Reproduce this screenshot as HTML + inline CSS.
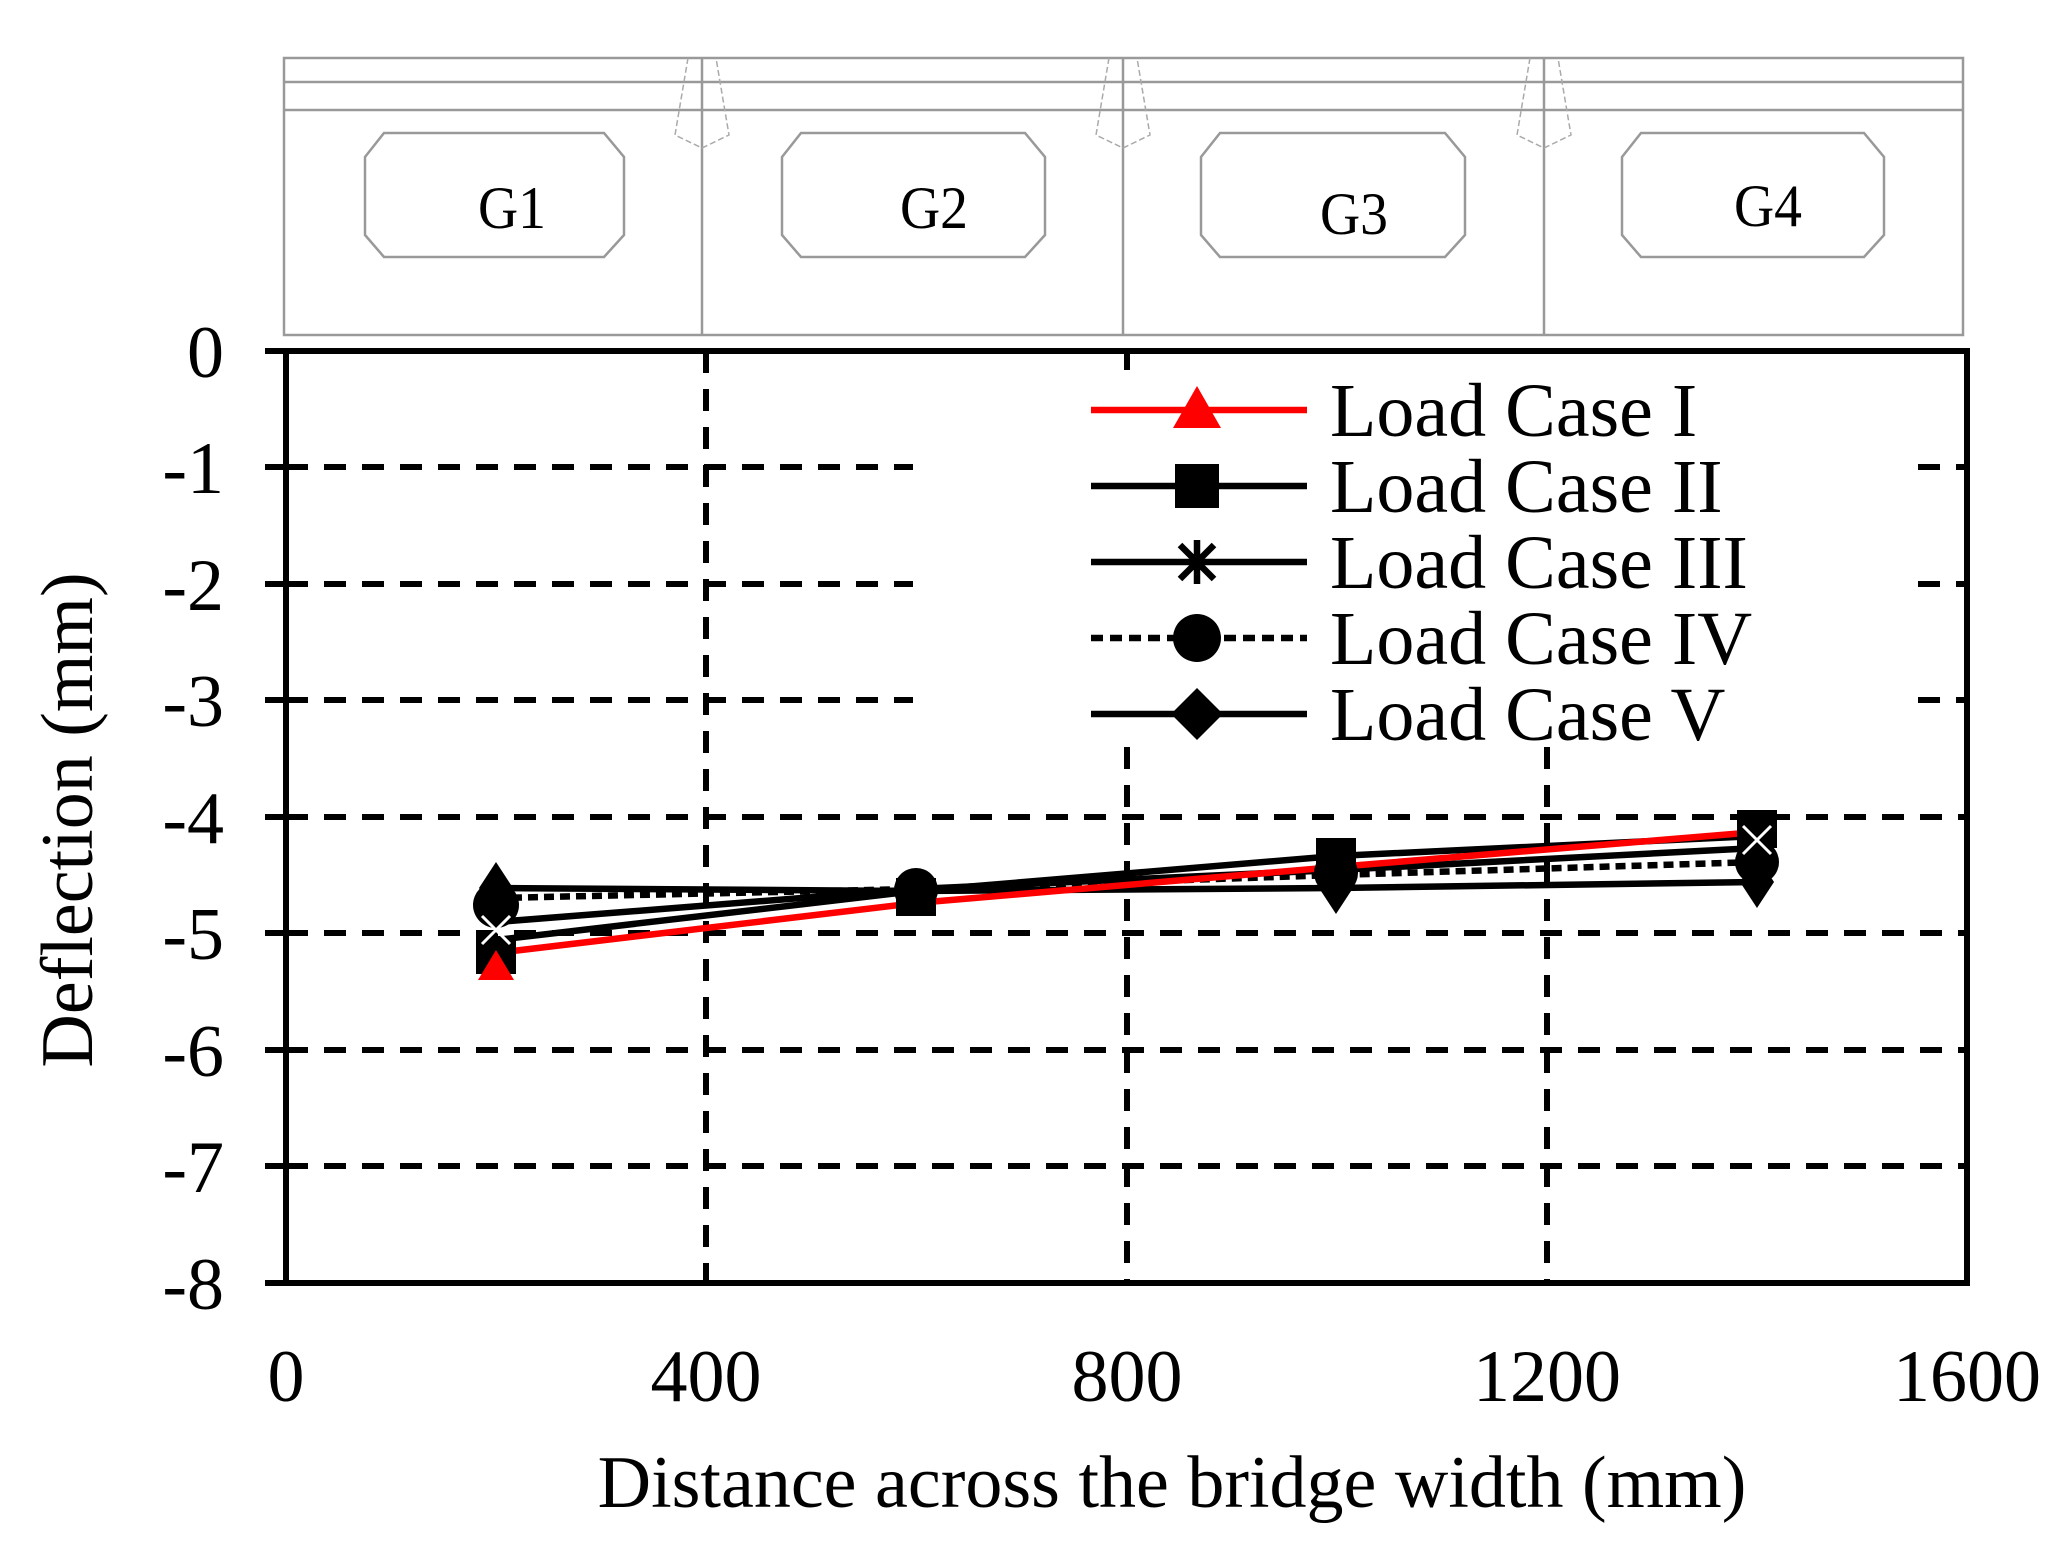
<!DOCTYPE html>
<html><head><meta charset="utf-8"><style>html,body{margin:0;padding:0;background:#fff}svg{display:block}</style></head>
<body>
<svg width="2064" height="1545" viewBox="0 0 2064 1545" xmlns="http://www.w3.org/2000/svg" font-family="Liberation Serif, serif">
<g stroke="#999" stroke-width="2.5" fill="none">
<rect x="284" y="58" width="1679" height="277"/>
<line x1="284" y1="82" x2="1963" y2="82"/>
<line x1="284" y1="110" x2="1963" y2="110"/>
<line x1="702" y1="58" x2="702" y2="335"/>
<line x1="1123" y1="58" x2="1123" y2="335"/>
<line x1="1544" y1="58" x2="1544" y2="335"/>
<path d="M365 157 L384 133 L604 133 L624 157 L624 235 L604 257 L384 257 L365 235 Z"/>
<path d="M782 157 L801 133 L1025 133 L1045 157 L1045 235 L1025 257 L801 257 L782 235 Z"/>
<path d="M1201 157 L1220 133 L1445 133 L1465 157 L1465 235 L1445 257 L1220 257 L1201 235 Z"/>
<path d="M1622 157 L1641 133 L1864 133 L1884 157 L1884 235 L1864 257 L1641 257 L1622 235 Z"/>
</g>
<g stroke="#aaa" stroke-width="1.5" fill="none" stroke-dasharray="6,3">
<path d="M688 58 L675 135 L702 148 L729 135 L716 58"/>
<path d="M1109 58 L1096 135 L1123 148 L1150 135 L1137 58"/>
<path d="M1530 58 L1517 135 L1544 148 L1571 135 L1558 58"/>
</g>
<g font-size="60" fill="#000" text-anchor="middle">
<text x="512" y="228" textLength="68" lengthAdjust="spacingAndGlyphs">G1</text>
<text x="934" y="228" textLength="68" lengthAdjust="spacingAndGlyphs">G2</text>
<text x="1354" y="234" textLength="68" lengthAdjust="spacingAndGlyphs">G3</text>
<text x="1768" y="226" textLength="68" lengthAdjust="spacingAndGlyphs">G4</text>
</g>
<g stroke="#000" stroke-width="6" stroke-dasharray="22,16" fill="none">
<path d="M286 467 H913 M1918 467 H1967"/>
<path d="M286 584 H913 M1918 584 H1967"/>
<path d="M286 700 H913 M1918 700 H1967"/>
<path d="M286 817 H1967"/>
<path d="M286 933 H1967"/>
<path d="M286 1050 H1967"/>
<path d="M286 1166 H1967"/>
<path d="M706 351 V1283"/>
<path d="M1127 351 V370 M1127 747 V1283"/>
<path d="M1547 747 V1283"/>
</g>
<g stroke="#000" stroke-width="6">
<path d="M265 351 H286 M265 467 H286 M265 584 H286 M265 700 H286 M265 817 H286 M265 933 H286 M265 1050 H286 M265 1166 H286 M265 1283 H286"/>
<rect x="286" y="351" width="1681" height="932" fill="none"/>
</g>
<g fill="none" stroke-width="6.5">
<polyline stroke="#000" points="496,888 916,891 1336,888 1757,882"/>
<polyline stroke="#000" stroke-dasharray="10,6" points="496,898 916,889 1336,875 1757,862"/>
<polyline stroke="#000" points="496,922 916,889 1336,870 1757,848"/>
<polyline stroke="#000" points="496,940 916,891 1336,856 1757,836"/>
<polyline stroke="#f00" points="496,953 916,903 1336,867 1757,832"/>
</g>
<g fill="#000">
<path d="M496 862 l17 26 l-17 26 l-17 -26 Z"/><path d="M916 868 l17 24 l-17 24 l-17 -24Z"/><path d="M1336 862 l17 26 l-17 26 l-17 -26 Z"/><path d="M1757 856 l17 26 l-17 26 l-17 -26 Z"/>
<circle cx="496" cy="905" r="23"/><circle cx="916" cy="890" r="22"/><circle cx="1336" cy="873" r="22"/><circle cx="1757" cy="862" r="22"/>
<rect x="476" y="936" width="40" height="38"/><rect x="896" y="878" width="40" height="38"/><rect x="1316" y="838" width="40" height="38"/><rect x="1737" y="810" width="40" height="38"/>
</g>
<path d="M478 980 L496 950 L514 980 Z" fill="#f00"/>
<g stroke="#fff" stroke-width="3">
<path d="M482 916 l28 28 M510 916 l-28 28"/>
<path d="M1743 826 l28 28 M1771 826 l-28 28"/>
</g>
<g stroke-width="6.5">
<line x1="1091" y1="410" x2="1307" y2="410" stroke="#f00"/>
<path d="M1173 428 L1197 386 L1221 428 Z" fill="#f00"/>
<line x1="1091" y1="486" x2="1307" y2="486" stroke="#000"/>
<rect x="1175" y="464" width="44" height="44" fill="#000"/>
<line x1="1091" y1="562" x2="1307" y2="562" stroke="#000"/>
<path d="M1180 545 l34 34 M1214 545 l-34 34 M1197 540 v44" stroke="#000"/>
<line x1="1091" y1="638" x2="1307" y2="638" stroke="#000" stroke-dasharray="12,7"/>
<circle cx="1197" cy="638" r="24" fill="#000"/>
<line x1="1091" y1="714" x2="1307" y2="714" stroke="#000"/>
<path d="M1197 688 l26 26 l-26 26 l-26 -26Z" fill="#000"/>
</g>
<g font-size="76" fill="#000">
<text x="1330" y="436">Load Case I</text>
<text x="1330" y="512">Load Case II</text>
<text x="1330" y="588">Load Case III</text>
<text x="1330" y="664">Load Case IV</text>
<text x="1330" y="740">Load Case V</text>
</g>
<g font-size="74" fill="#000" text-anchor="end">
<text x="224" y="377">0</text><text x="224" y="493">-1</text><text x="224" y="610">-2</text><text x="224" y="726">-3</text><text x="224" y="843">-4</text><text x="224" y="959">-5</text><text x="224" y="1076">-6</text><text x="224" y="1192">-7</text><text x="224" y="1309">-8</text>
</g>
<g font-size="74" fill="#000" text-anchor="middle">
<text x="286" y="1401">0</text><text x="706" y="1401">400</text><text x="1127" y="1401">800</text><text x="1547" y="1401">1200</text><text x="1967" y="1401">1600</text>
<text x="1172" y="1507">Distance across the bridge width (mm)</text>
<text transform="translate(92,820) rotate(-90)">Deflection (mm)</text>
</g>
</svg>
</body></html>
